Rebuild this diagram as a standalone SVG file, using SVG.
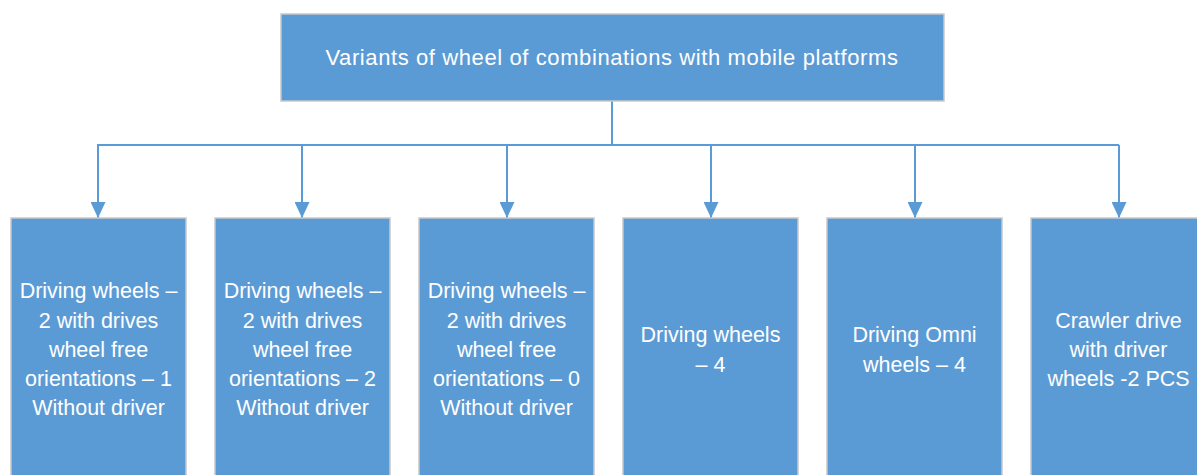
<svg xmlns="http://www.w3.org/2000/svg" width="1197" height="475" viewBox="0 0 1197 475">
<defs>
<style>
.box{fill:#5B9BD5;stroke:#C8C8C8;stroke-width:1.5}
.t{font-family:"Liberation Sans",Arial,sans-serif;font-size:21.5px;fill:#FFFFFF;text-anchor:middle}
.tt{font-family:"Liberation Sans",Arial,sans-serif;font-size:22px;fill:#FFFFFF;text-anchor:middle;letter-spacing:0.6px}
.c{fill:none;stroke:#5B9BD5;stroke-width:2}
</style>
<marker id="ah" markerWidth="16" markerHeight="15" refX="16" refY="7.5" orient="auto" markerUnits="userSpaceOnUse" viewBox="0 0 16 15">
<path d="M0,0 L16,7.5 L0,15 Z" fill="#5B9BD5"/>
</marker>
</defs>
<rect width="1197" height="475" fill="#FFFFFF"/>
<g id="connectors">
<path class="c" d="M612,101 V145"/>
<path class="c" d="M97,145 H1119"/>
<path class="c" d="M98,145 V218" marker-end="url(#ah)"/>
<path class="c" d="M302,145 V218" marker-end="url(#ah)"/>
<path class="c" d="M507,145 V218" marker-end="url(#ah)"/>
<path class="c" d="M711,145 V218" marker-end="url(#ah)"/>
<path class="c" d="M915,145 V218" marker-end="url(#ah)"/>
<path class="c" d="M1119,145 V218" marker-end="url(#ah)"/>
</g>
<g id="root">
<rect class="box" x="281" y="14" width="663" height="87"/>
<text class="tt" x="612" y="65">Variants of wheel of combinations with mobile platforms</text>
</g>
<g id="n1">
<rect class="box" x="11" y="218" width="175" height="270"/>
<text class="t"><tspan x="98.5" y="298">Driving wheels –</tspan><tspan x="98.5" y="328">2 with drives</tspan><tspan x="98.5" y="357">wheel free</tspan><tspan x="98.5" y="386">orientations – 1</tspan><tspan x="98.5" y="415">Without driver</tspan></text>
</g>
<g id="n2">
<rect class="box" x="215" y="218" width="175" height="270"/>
<text class="t"><tspan x="302.5" y="298">Driving wheels –</tspan><tspan x="302.5" y="328">2 with drives</tspan><tspan x="302.5" y="357">wheel free</tspan><tspan x="302.5" y="386">orientations – 2</tspan><tspan x="302.5" y="415">Without driver</tspan></text>
</g>
<g id="n3">
<rect class="box" x="419" y="218" width="175" height="270"/>
<text class="t"><tspan x="506.5" y="298">Driving wheels –</tspan><tspan x="506.5" y="328">2 with drives</tspan><tspan x="506.5" y="357">wheel free</tspan><tspan x="506.5" y="386">orientations – 0</tspan><tspan x="506.5" y="415">Without driver</tspan></text>
</g>
<g id="n4">
<rect class="box" x="623" y="218" width="175" height="270"/>
<text class="t"><tspan x="710.5" y="342">Driving wheels</tspan><tspan x="710.5" y="372">– 4</tspan></text>
</g>
<g id="n5">
<rect class="box" x="827" y="218" width="175" height="270"/>
<text class="t"><tspan x="914.5" y="342">Driving Omni</tspan><tspan x="914.5" y="372">wheels – 4</tspan></text>
</g>
<g id="n6">
<rect class="box" x="1031" y="218" width="175" height="270"/>
<text class="t"><tspan x="1118.5" y="328">Crawler drive</tspan><tspan x="1118.5" y="357">with driver</tspan><tspan x="1118.5" y="386">wheels -2 PCS</tspan></text>
</g>
</svg>
